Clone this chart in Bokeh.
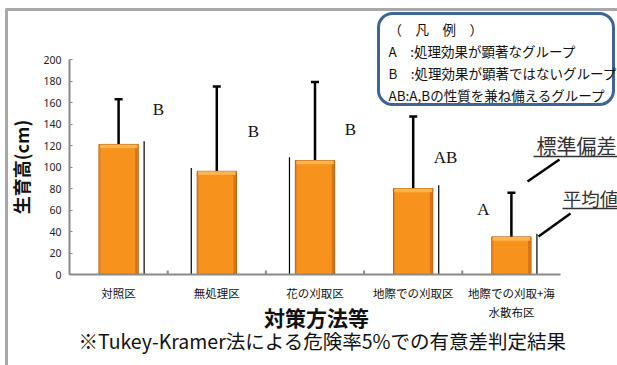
from bokeh.plotting import figure
from bokeh.models import (Range1d, FixedTicker, Label, BoxAnnotation, Whisker,
                          TeeHead, LinearAxis, ColumnDataSource)
from bokeh.core.properties import value
from bokeh.embed import file_html
from bokeh.resources import INLINE

# --- data -------------------------------------------------------------
categories = ["対照区", "無処理区", "花の刈取区", "地際での刈取区", "地際での刈取+海\n水散布区"]
mean_height = [121, 96, 106, 80, 35]        # 平均値 (cm)
std_dev = [42, 79, 73, 67, 41]              # 標準偏差 (cm)
groups = ["B", "B", "B", "AB", "A"]         # Tukey-Kramer groups
y_ticks = [0, 20, 40, 60, 80, 100, 120, 140, 160, 180, 200]

legend_lines = [
    "（　凡　例　）",
    "A　:処理効果が顕著なグループ",
    "B　:処理効果が顕著ではないグループ",
    "AB:A,Bの性質を兼ね備えるグループ",
]

# --- layout -----------------------------------------------------------
W, H = 617, 365
AX_L, AX_R, AX_T, AX_B = 69, 560, 59, 274   # axis box in canvas pixels
N = len(categories)
YMAX = 200


def fx(px):
    """canvas x pixel -> data x"""
    return (px - AX_L) * N / (AX_R - AX_L)


def fy(py):
    """canvas y pixel -> data y"""
    return (AX_B - py) * YMAX / (AX_B - AX_T)


JP = "Noto Sans CJK JP"

# the frame spans the whole canvas; axes sit at fixed data locations
p = figure(width=W, height=H, output_backend="svg", toolbar_location=None,
           x_range=Range1d(fx(0), fx(W)), y_range=Range1d(fy(H), fy(0)),
           x_axis_location=None, y_axis_location=None,
           min_border=0, min_border_left=0, min_border_right=0,
           min_border_top=0, min_border_bottom=0)
p.outline_line_color = None
p.grid.grid_line_color = None
p.background_fill_color = "white"
p.border_fill_color = "white"

# y axis
ya = LinearAxis(fixed_location=0, bounds=(0, YMAX))
ya.ticker = FixedTicker(ticks=y_ticks)
ya.axis_line_color = "#8a8a8a"
ya.axis_line_width = 2
ya.major_tick_in = 3
ya.major_tick_out = 0
ya.major_tick_line_color = "#8a8a8a"
ya.minor_tick_line_color = None
ya.major_label_text_font = "Noto Sans"
ya.major_label_text_font_size = "10.5px"
ya.major_label_text_color = "#222222"
ya.major_label_standoff = 8
ya.axis_label = "生育高(cm)"
ya.axis_label_text_font = JP
ya.axis_label_text_font_style = "bold"
ya.axis_label_text_font_size = "18px"
ya.axis_label_text_color = "#111111"
ya.axis_label_standoff = 6
p.add_layout(ya, "left")

# x axis with category names
centers = [i + 0.5 for i in range(N)]
xa = LinearAxis(fixed_location=0, bounds=(0, N))
xa.ticker = FixedTicker(ticks=centers)
xa.major_label_overrides = {c: n for c, n in zip(centers, categories)}
xa.axis_line_color = "#8a8a8a"
xa.axis_line_width = 2
xa.major_tick_in = 0
xa.major_tick_out = 0
xa.minor_tick_line_color = None
xa.major_label_text_font = JP
xa.major_label_text_font_size = "11.5px"
xa.major_label_text_color = "#111111"
xa.major_label_standoff = 10
p.add_layout(xa, "below")

# canvas frame lines (top and left)
p.segment(x0=[fx(5), fx(6)], y0=[fy(9), fy(9)], x1=[fx(W + 5), fx(6)], y1=[fy(9), fy(H + 5)],
          line_color="#a8a8a8", line_width=3)

# small ticks between categories
bounds = list(range(1, N))
p.segment(x0=bounds, y0=[0] * len(bounds), x1=bounds, y1=[fy(AX_B - 4)] * len(bounds),
          line_color="#8a8a8a", line_width=2)

# bars
src = ColumnDataSource(dict(
    x=centers, top=mean_height, sd=std_dev,
    upper=[m + s for m, s in zip(mean_height, std_dev)],
    hl=[m - 3.5 for m in mean_height],
))
BW = 0.4
p.vbar(x="x", top="top", bottom=0, width=BW, source=src,
       fill_color="#f7931c", line_color="#b25c0e", line_width=1)
# bevel highlights on each bar
p.vbar(x="x", top="top", bottom="hl", width=BW - 0.02, source=src,
       fill_color="#fdb44c", line_color=None)
p.vbar(x=[c + BW / 2 - 0.018 for c in centers], top=[m - 3.5 for m in mean_height],
       bottom=0, width=0.025, fill_color="#d5741a", line_color=None)
p.vbar(x=[c - BW / 2 + 0.012 for c in centers], top=[m - 3.5 for m in mean_height],
       bottom=0, width=0.014, fill_color="#e8861c", line_color=None)

# thin black marker lines beside each bar
side = [1, -1, -1, 1, 1]
mx = [c + s * 0.26 for c, s in zip(centers, side)]
p.segment(x0=mx, y0=[0] * N, x1=mx, y1=[m + 3 for m in mean_height],
          line_color="black", line_width=1.2)

# error bars (standard deviation, upper only)
p.add_layout(Whisker(source=src, base="x", lower="top", upper="upper",
                     line_color="black", line_width=2.5,
                     upper_head=TeeHead(size=8, line_color="black", line_width=2.5),
                     lower_head=None))

# group letters
letter_px = [(158, 109), (253, 131), (350, 129), (445, 157), (483, 209)]
p.text(x=[fx(a) for a, _ in letter_px], y=[fy(b) for _, b in letter_px], text=groups,
       text_font=value("Liberation Serif"), text_font_size="17px",
       text_align="center", text_baseline="middle", text_color="#111111")

# legend box
p.add_layout(BoxAnnotation(left=fx(378), right=fx(613), top=fy(13), bottom=fy(104),
                           fill_color="white", fill_alpha=1.0,
                           line_color="#3d6596", line_alpha=1.0, line_width=3,
                           border_radius=14))
for i, t in enumerate(legend_lines):
    p.add_layout(Label(x=fx(388), y=fy(28 + 22 * i), text=t, text_font=JP,
                       text_font_size="13.5px", text_baseline="middle",
                       text_color="#111111"))

# callouts
p.add_layout(Label(x=fx(576), y=fy(145), text="標準偏差", text_font=JP,
                   text_font_size="20px", text_align="center", text_baseline="middle",
                   text_color="#333333"))
p.add_layout(Label(x=fx(590), y=fy(197), text="平均値", text_font=JP,
                   text_font_size="18.5px", text_align="center", text_baseline="middle",
                   text_color="#333333"))
p.segment(x0=[fx(533), fx(562)], y0=[fy(156), fy(208)], x1=[fx(617), fx(617)],
          y1=[fy(156), fy(208)], line_color="#333333", line_width=1.3)
p.segment(x0=[fx(559), fx(570)], y0=[fy(159), fy(213)], x1=[fx(527), fx(538)],
          y1=[fy(181), fy(236)], line_color="black", line_width=2.5)

# axis title and footnote
p.add_layout(Label(x=fx(316), y=fy(316), text="対策方法等", text_font=JP,
                   text_font_size="21px", text_font_style="bold", text_align="center",
                   text_baseline="middle", text_color="#111111"))
p.add_layout(Label(x=fx(322), y=fy(340), text="※Tukey-Kramer法による危険率5%での有意差判定結果",
                   text_font=JP, text_font_size="19.5px", text_align="center",
                   text_baseline="middle", text_color="#111111"))

open("out.html", "w").write(file_html(p, INLINE))
